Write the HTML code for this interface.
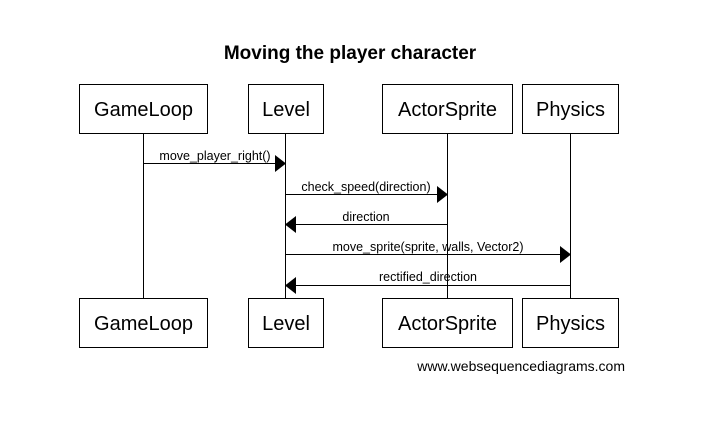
<!DOCTYPE html>
<html><head><style>
body{margin:0;background:#fff;}
svg text{font-family:"Liberation Sans",Arial,sans-serif;}
</style></head><body>
<svg width="715" height="416" viewBox="0 0 715 416" xmlns="http://www.w3.org/2000/svg">
<rect width="715" height="416" fill="#fff"/>
<text x="350" y="59" font-size="19" font-weight="bold" text-anchor="middle">Moving the player character</text>
<g stroke="#000" stroke-width="1" fill="none">
<line x1="143.5" y1="133" x2="143.5" y2="298"/>
<line x1="285.5" y1="133" x2="285.5" y2="298"/>
<line x1="447.5" y1="133" x2="447.5" y2="298"/>
<line x1="570.5" y1="133" x2="570.5" y2="298"/>
<rect x="79.5" y="84.5" width="128" height="49" fill="#fff"/>
<rect x="248.5" y="84.5" width="75" height="49" fill="#fff"/>
<rect x="382.5" y="84.5" width="130" height="49" fill="#fff"/>
<rect x="522.5" y="84.5" width="96" height="49" fill="#fff"/>
<rect x="79.5" y="298.5" width="128" height="49" fill="#fff"/>
<rect x="248.5" y="298.5" width="75" height="49" fill="#fff"/>
<rect x="382.5" y="298.5" width="130" height="49" fill="#fff"/>
<rect x="522.5" y="298.5" width="96" height="49" fill="#fff"/>
<line x1="143" y1="163.5" x2="276" y2="163.5"/>
<line x1="285" y1="194.5" x2="438" y2="194.5"/>
<line x1="447" y1="224.5" x2="294" y2="224.5"/>
<line x1="285" y1="254.5" x2="561" y2="254.5"/>
<line x1="570" y1="285.5" x2="294" y2="285.5"/>
</g>
<g fill="#000">
<polygon points="275,155 286,163.5 275,172"/>
<polygon points="437,186 448,194.5 437,203"/>
<polygon points="296,216 285,224.5 296,233"/>
<polygon points="560,246 571,254.5 560,263"/>
<polygon points="296,277 285,285.5 296,294"/>
</g>
<g font-size="20" text-anchor="middle">
<text x="143.5" y="116">GameLoop</text>
<text x="286" y="116">Level</text>
<text x="447.5" y="116">ActorSprite</text>
<text x="570.5" y="116">Physics</text>
<text x="143.5" y="330">GameLoop</text>
<text x="286" y="330">Level</text>
<text x="447.5" y="330">ActorSprite</text>
<text x="570.5" y="330">Physics</text>
</g>
<g font-size="12.5" text-anchor="middle">
<text x="215" y="160">move_player_right()</text>
<text x="366" y="191">check_speed(direction)</text>
<text x="366" y="221">direction</text>
<text x="428" y="251">move_sprite(sprite, walls, Vector2)</text>
<text x="428" y="281">rectified_direction</text>
</g>
<text x="625" y="371" font-size="14" text-anchor="end">www.websequencediagrams.com</text>
</svg>
</body></html>
